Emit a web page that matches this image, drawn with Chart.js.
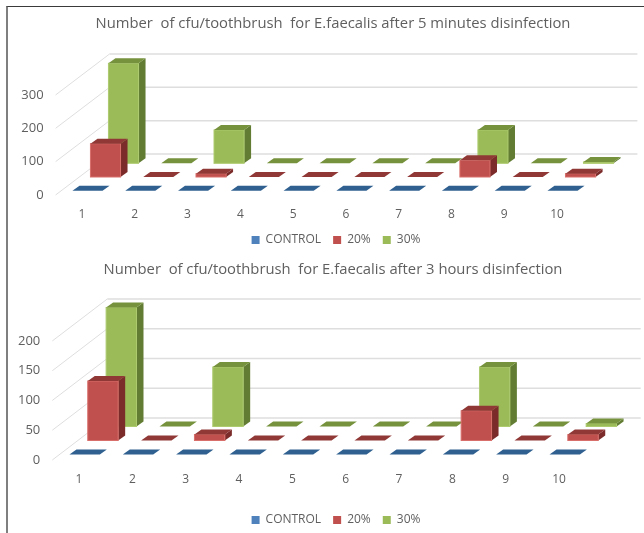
<!DOCTYPE html>
<html>
<head>
<meta charset="utf-8">
<script src="https://cdn.jsdelivr.net/npm/chart.js@4"></script>
<style>
    html, body { margin: 0; padding: 0; width: 644px; height: 533px; overflow: hidden; background: #fff; }
    #frame { position: absolute; left: 6px; top: 6px; right: 0; bottom: 0; border-top: 1px solid #3a3a3a; border-left: 2px solid #7f7f7f; }
    canvas { position: absolute; left: 16px; filter: blur(0.35px); }
    #chartMinutes { top: 0; }
    #chartHours { top: 256px; }
</style>
</head>
<body>
<div id="frame"></div>
<canvas id="chartMinutes" width="634" height="256"></canvas>
<canvas id="chartHours" width="634" height="280"></canvas>
<script>
const categories = ['1', '2', '3', '4', '5', '6', '7', '8', '9', '10'];
const seriesNames = ['CONTROL', '20%', '30%'];

const titleMinutes = 'Number  of cfu/toothbrush  for E.faecalis after 5 minutes disinfection';
const control5min = [0, 0, 0, 0, 0, 0, 0, 0, 0, 0];
const percent20_5min = [100, 0, 10, 0, 0, 0, 0, 50, 0, 10];
const percent30_5min = [300, 0, 100, 0, 0, 0, 0, 100, 0, 4];

const titleHours = 'Number  of cfu/toothbrush  for E.faecalis after 3 hours disinfection';
const control3h = [0, 0, 0, 0, 0, 0, 0, 0, 0, 0];
const percent20_3h = [100, 0, 10, 0, 0, 0, 0, 50, 0, 10];
const percent30_3h = [200, 0, 100, 0, 0, 0, 0, 100, 0, 5];

const frontColors = ['#4f81bd', '#c0504d', '#9bbb59'];
const topColors = ['#2f6090', '#8f3836', '#76923c'];
const sideColors = ['#2a5580', '#7b2c2a', '#627d33'];
const edgeColors = ['#6f9bd0', '#d96f6b', '#aecb70'];
const textColor = '#5f5f5f';
const gridColor = '#dedede';

function polygon(ctx, points, color) {
    ctx.fillStyle = color;
    ctx.beginPath();
    points.forEach(function (p, i) {
        if (i === 0) ctx.moveTo(p[0], p[1]);
        else ctx.lineTo(p[0], p[1]);
    });
    ctx.closePath();
    ctx.fill();
}

// Excel style 3D look: walls first, then each row of bars from back to front
const depthPlugin = {
    id: 'depth3d',
    afterLayout(chart, args, opts) {
        // the legend sits a little right of the title in the original
        chart.legend.left += opts.legendShift;
        chart.legend.right += opts.legendShift;
    },
    beforeDatasetsDraw(chart, args, opts) {
        const ctx = chart.ctx;
        const area = chart.chartArea;
        const yScale = chart.scales.y;

        ctx.save();
        ctx.strokeStyle = gridColor;
        yScale.ticks.forEach(function (tick) {
            const y = yScale.getPixelForValue(tick.value);
            ctx.lineWidth = 1;
            ctx.beginPath();
            ctx.moveTo(area.left, y);
            ctx.lineTo(area.left + opts.wallDx, y - opts.wallDy);
            ctx.stroke();
            ctx.lineWidth = 1.5;
            ctx.beginPath();
            ctx.moveTo(area.left + opts.wallDx, y - opts.wallDy);
            ctx.lineTo(area.right + opts.wallDx, y - opts.wallDy);
            ctx.stroke();
        });

        const rows = chart.data.datasets.length;
        for (let row = rows - 1; row >= 0; row--) {
            const shiftX = opts.wallDx * (row + 0.5) / rows - opts.barDx / 2;
            const shiftY = opts.wallDy * (row + 0.5) / rows - opts.barDy / 2 + opts.lift;
            chart.getDatasetMeta(row).data.forEach(function (bar) {
                const left = bar.x - bar.width / 2 + shiftX;
                const right = left + bar.width;
                const top = bar.y - shiftY;
                const bottom = bar.base - shiftY;
                const dx = opts.barDx;
                const dy = opts.barDy;
                polygon(ctx, [[right, top], [right + dx, top - dy], [right + dx, bottom - dy], [right, bottom]], sideColors[row]);
                if (bottom - top > 0.5) {
                    polygon(ctx, [[left, top], [right, top], [right, bottom], [left, bottom]], frontColors[row]);
                    ctx.strokeStyle = edgeColors[row];
                    ctx.lineWidth = 1;
                    ctx.strokeRect(left, top, bar.width, bottom - top);
                }
                polygon(ctx, [[left, top], [right, top], [right + dx, top - dy], [left + dx, top - dy]], topColors[row]);
            });
        }
        ctx.restore();
        return false;
    }
};

function buildChart(canvasId, title, values, layout) {
    return new Chart(document.getElementById(canvasId), {
        type: 'bar',
        plugins: [depthPlugin],
        data: {
            labels: categories,
            datasets: seriesNames.map(function (name, i) {
                return { label: name, data: values[i], backgroundColor: frontColors[i], grouped: false };
            })
        },
        options: {
            responsive: false,
            animation: false,
            barPercentage: 0.57,
            categoryPercentage: 1,
            plugins: {
                depth3d: { wallDx: layout.wallDx, wallDy: layout.wallDy, barDx: 7, barDy: 5, lift: layout.lift, legendShift: 3 },
                tooltip: { enabled: false },
                title: {
                    display: true,
                    text: title,
                    color: textColor,
                    font: { family: 'Open Sans', size: 14.8, weight: 'normal' },
                    padding: { top: layout.titleTop, bottom: layout.titleBottom }
                },
                legend: {
                    position: 'bottom',
                    labels: {
                        boxWidth: 8,
                        boxHeight: 8,
                        padding: 12,
                        color: textColor,
                        font: { family: 'Open Sans', size: 12 }
                    }
                }
            },
            scales: {
                x: {
                    grid: { display: false, drawTicks: false },
                    border: { display: false },
                    ticks: { color: textColor, font: { family: 'Open Sans', size: 12 }, padding: 12, maxRotation: 0, autoSkip: false },
                    afterFit(scale) { scale.height = layout.axisHeight; }
                },
                y: {
                    min: 0,
                    max: layout.maxValue,
                    grid: { display: false, drawTicks: false },
                    border: { display: false },
                    ticks: { stepSize: layout.step, color: textColor, font: { family: 'Open Sans', size: 13 }, padding: 12 },
                    afterFit(scale) { scale.width = layout.axisWidth; }
                },
                // keeps room on the right for the back wall, title stays centred on the canvas
                spare: {
                    position: 'right',
                    grid: { display: false },
                    border: { display: false },
                    ticks: { display: false },
                    afterFit(scale) { scale.width = layout.spareWidth; }
                }
            }
        }
    });
}

buildChart('chartMinutes', titleMinutes, [control5min, percent20_5min, percent30_5min], {
    wallDx: 54, wallDy: 41, maxValue: 300, step: 100, lift: 0,
    titleTop: 15.1, titleBottom: 62.1, axisHeight: 27, axisWidth: 39.6, spareWidth: 66.6
});

buildChart('chartHours', titleHours, [control3h, percent20_3h, percent30_3h], {
    wallDx: 55, wallDy: 42, maxValue: 200, step: 50, lift: 1,
    titleTop: 5.1, titleBottom: 62.1, axisHeight: 42, axisWidth: 36.3, spareWidth: 64.3
});
</script>
</body>
</html>
